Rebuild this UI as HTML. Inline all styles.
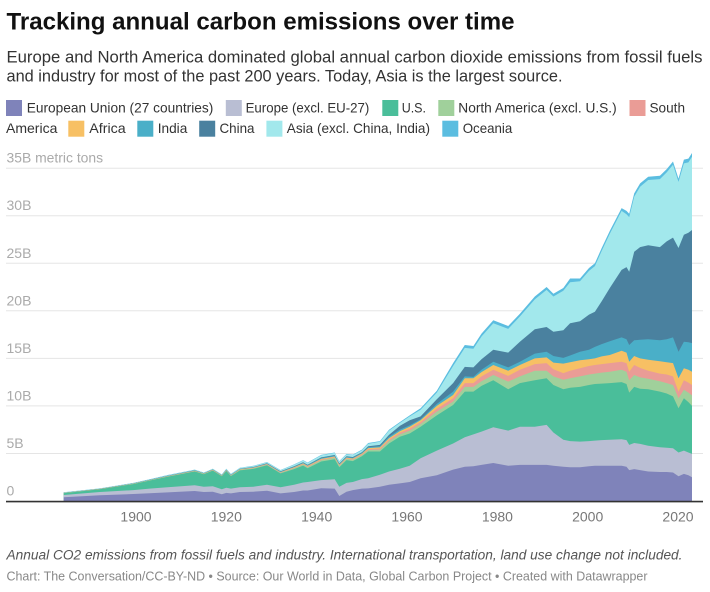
<!DOCTYPE html>
<html>
<head>
<meta charset="utf-8">
<style>
html,body{margin:0;padding:0;background:#fff;}
svg{display:block;}
text{font-family:"Liberation Sans",Arial,sans-serif;}
</style>
</head>
<body>
<svg width="710" height="592" viewBox="0 0 710 592" xmlns="http://www.w3.org/2000/svg">
<rect width="710" height="592" fill="#ffffff"/>

<!-- Title & subtitle -->
<text x="6.5" y="29.5" font-size="24" font-weight="bold" fill="#111" textLength="508" lengthAdjust="spacingAndGlyphs">Tracking annual carbon emissions over time</text>
<text x="6.5" y="62.5" font-size="17" fill="#333" textLength="696" lengthAdjust="spacingAndGlyphs">Europe and North America dominated global annual carbon dioxide emissions from fossil fuels</text>
<text x="6.5" y="81.5" font-size="17" fill="#333" textLength="556" lengthAdjust="spacingAndGlyphs">and industry for most of the past 200 years. Today, Asia is the largest source.</text>

<!-- Legend row 1 -->
<rect x="6" y="100" width="16" height="16" fill="#7f83ba"/>
<text x="26.7" y="112.7" font-size="14" fill="#333" textLength="186.6" lengthAdjust="spacingAndGlyphs">European Union (27 countries)</text>
<rect x="225.8" y="100" width="16" height="16" fill="#b9bed3"/>
<text x="245.6" y="112.7" font-size="14" fill="#333" textLength="123.7" lengthAdjust="spacingAndGlyphs">Europe (excl. EU-27)</text>
<rect x="382.3" y="100" width="16" height="16" fill="#4abe9a"/>
<text x="401.7" y="112.7" font-size="14" fill="#333" textLength="24.3" lengthAdjust="spacingAndGlyphs">U.S.</text>
<rect x="438.3" y="100" width="16" height="16" fill="#a0d09b"/>
<text x="458.3" y="112.7" font-size="14" fill="#333" textLength="158.4" lengthAdjust="spacingAndGlyphs">North America (excl. U.S.)</text>
<rect x="629.5" y="100" width="16" height="16" fill="#ea9c96"/>
<text x="649.5" y="112.7" font-size="14" fill="#333" textLength="35.5" lengthAdjust="spacingAndGlyphs">South</text>

<!-- Legend row 2 -->
<text x="6" y="133" font-size="14" fill="#333" textLength="51.4" lengthAdjust="spacingAndGlyphs">America</text>
<rect x="68.3" y="120.7" width="16" height="16" fill="#f7c064"/>
<text x="89.3" y="133" font-size="14" fill="#333" textLength="36.4" lengthAdjust="spacingAndGlyphs">Africa</text>
<rect x="137.3" y="120.7" width="16" height="16" fill="#4aafc8"/>
<text x="157.7" y="133" font-size="14" fill="#333" textLength="29.6" lengthAdjust="spacingAndGlyphs">India</text>
<rect x="199.2" y="120.7" width="16" height="16" fill="#4a819f"/>
<text x="219.5" y="133" font-size="14" fill="#333" textLength="35" lengthAdjust="spacingAndGlyphs">China</text>
<rect x="266.4" y="120.7" width="16" height="16" fill="#a2e8ec"/>
<text x="286.8" y="133" font-size="14" fill="#333" textLength="143.2" lengthAdjust="spacingAndGlyphs">Asia (excl. China, India)</text>
<rect x="442.3" y="120.7" width="16" height="16" fill="#5bbde0"/>
<text x="462.7" y="133" font-size="14" fill="#333" textLength="49.6" lengthAdjust="spacingAndGlyphs">Oceania</text>

<!-- Gridlines -->
<g stroke="#e5e5e5" stroke-width="1">
<line x1="6" y1="168.2" x2="703" y2="168.2"/>
<line x1="6" y1="215.7" x2="703" y2="215.7"/>
<line x1="6" y1="263.3" x2="703" y2="263.3"/>
<line x1="6" y1="310.8" x2="703" y2="310.8"/>
<line x1="6" y1="358.4" x2="703" y2="358.4"/>
<line x1="6" y1="405.9" x2="703" y2="405.9"/>
<line x1="6" y1="453.5" x2="703" y2="453.5"/>
</g>

<!-- Y labels -->
<g font-size="14" fill="#aaaaaa">
<text x="6.5" y="162.7" textLength="96.6" lengthAdjust="spacingAndGlyphs">35B metric tons</text>
<text x="6.5" y="210.2">30B</text>
<text x="6.5" y="257.8">25B</text>
<text x="6.5" y="305.3">20B</text>
<text x="6.5" y="352.9">15B</text>
<text x="6.5" y="400.4">10B</text>
<text x="6.5" y="448">5B</text>
<text x="6.5" y="495.4">0</text>
</g>

<!-- Stacked areas (cumulative, drawn top layer first) -->
<path fill="#5bbde0" d="M63.7,501 L63.7,492.3 99.9,488.4 133.3,482.9 149.6,479.3 167.6,475 194.7,469.6 203.8,472.5 212.8,468.7 221.8,474.4 226.3,468.7 230.9,473.9 239.9,467.7 253.4,465.8 267,462 280.5,470 294.1,464.4 303.1,460.1 307.6,462.5 321.2,454.9 334.7,452.5 339.3,461.1 346.5,453.9 352.8,454.6 361.9,449.6 368.2,443 379.9,441.1 389,429.7 399.8,422.1 409.7,415.4 420.6,408.3 436.8,390.7 453.1,363.1 464.8,345 473.4,346 481.5,333.6 493.3,320.3 508.2,326 519.9,313.7 534.8,296.5 546.6,287 553.4,293.7 563.3,288 570.1,278.5 580,278.5 589,268 594.9,263.3 601.7,248 609.8,230.9 621.6,208.1 626.5,210.9 629.2,213.8 634.2,193.4 640.1,183.4 648.2,176.7 659.9,175.8 666.7,169.1 673,161.5 678.5,178.6 683.9,159.6 688.4,158.6 692,153 L692,501 Z"/>
<path fill="#a2e8ec" d="M63.7,501 L63.7,492.4 99.9,488.4 133.3,483 149.6,479.4 167.6,475.2 194.7,469.8 203.8,472.6 212.8,468.8 221.8,474.5 226.3,468.9 230.9,474.1 239.9,467.9 253.4,466.1 267,462.3 280.5,470.3 294.1,464.8 303.1,460.5 307.6,462.9 321.2,455.4 334.7,453 339.3,461.6 346.5,454.4 352.8,455.1 361.9,450.3 368.2,443.7 379.9,441.8 389,430.6 399.8,423 409.7,416.4 420.6,409.7 436.8,392.6 453.1,366 464.8,347.9 473.4,348.8 481.5,336.5 493.3,323.2 508.2,328.9 519.9,316.5 534.8,299.4 546.6,289.9 553.4,296.5 563.3,290.8 570.1,282.3 580,281.3 589,270.9 594.9,266.1 601.7,250.9 609.8,233.8 621.6,210.9 626.5,214.3 629.2,217.1 634.2,196.7 640.1,186.7 648.2,180 659.9,179.1 666.7,172.4 673,164.8 678.5,181.9 683.9,163.4 688.4,162.4 692,156.7 L692,501 Z"/>
<path fill="#4a819f" d="M63.7,501 L63.7,492.7 99.9,488.7 133.3,483.4 149.6,479.8 167.6,475.7 194.7,470.3 203.8,473.1 212.8,469.4 221.8,475.1 226.3,469.6 230.9,474.7 239.9,468.7 253.4,467 267,463.3 280.5,471.3 294.1,466.2 303.1,462.2 307.6,464.7 321.2,457.4 334.7,455 339.3,463.4 346.5,456.3 352.8,457 361.9,452.3 368.2,446.2 379.9,444.9 389,434.9 399.8,425.9 409.7,420.2 420.6,416.4 436.8,399.2 453.1,383.1 464.8,366.9 473.4,367.4 481.5,359.3 493.3,349.8 508.2,352.6 519.9,341.7 534.8,329.3 546.6,327 553.4,331.7 563.3,330.3 570.1,323.2 580,321.3 589,314.6 594.9,311.8 601.7,301.3 609.8,288 621.6,269.9 626.5,267.1 629.2,271.8 634.2,251.8 640.1,247.1 648.2,245.2 659.9,247.1 666.7,241.4 673,237.6 678.5,248 683.9,234.7 688.4,232.8 692,230 L692,501 Z"/>
<path fill="#4aafc8" d="M63.7,501 L63.7,492.8 99.9,488.8 133.3,483.5 149.6,479.9 167.6,475.9 194.7,470.5 203.8,473.3 212.8,469.6 221.8,475.3 226.3,469.8 230.9,474.9 239.9,469 253.4,467.3 267,463.6 280.5,471.6 294.1,466.7 303.1,462.8 307.6,465.2 321.2,458.1 334.7,455.7 339.3,464 346.5,456.9 352.8,457.7 361.9,452.9 368.2,447.2 379.9,446.2 389,436.8 399.8,429.7 409.7,425.4 420.6,419.2 436.8,404 453.1,391.6 464.8,376.4 473.4,376.9 481.5,369.8 493.3,361.7 508.2,367.4 519.9,361.7 534.8,353.6 546.6,351.7 553.4,356 563.3,357.9 570.1,355.5 580,351.7 589,349.8 594.9,346.9 601.7,344.1 609.8,341.2 621.6,337.4 626.5,339.3 629.2,345 634.2,340.3 640.1,339.8 648.2,339.3 659.9,340.3 666.7,339.3 673,337.4 678.5,351.7 683.9,341.7 688.4,342.2 692,343.1 L692,501 Z"/>
<path fill="#f7c064" d="M63.7,501 L63.7,492.9 99.9,488.9 133.3,483.6 149.6,480.1 167.6,476.1 194.7,470.8 203.8,473.5 212.8,469.8 221.8,475.5 226.3,470.1 230.9,475.2 239.9,469.3 253.4,467.6 267,464 280.5,472.1 294.1,467.2 303.1,463.4 307.6,465.9 321.2,458.9 334.7,456.5 339.3,464.8 346.5,457.6 352.8,458.5 361.9,453.6 368.2,448.1 379.9,447.4 389,438.2 399.8,431.2 409.7,426.8 420.6,420.2 436.8,405.9 453.1,395 464.8,378.3 473.4,378.3 481.5,372.1 493.3,365 508.2,370.7 519.9,365 534.8,358.4 546.6,357.4 553.4,362.6 563.3,363.6 570.1,362.2 580,360.3 589,359.3 594.9,358.4 601.7,356.4 609.8,355 621.6,350.7 626.5,352.6 629.2,361.7 634.2,356 640.1,358.4 648.2,359.8 659.9,361.2 666.7,362.2 673,363.1 678.5,378.3 683.9,368.3 688.4,369.8 692,371.7 L692,501 Z"/>
<path fill="#ea9c96" d="M63.7,501 L63.7,493 99.9,489 133.3,483.7 149.6,480.2 167.6,476.2 194.7,471 203.8,473.7 212.8,470 221.8,475.7 226.3,470.3 230.9,475.4 239.9,469.6 253.4,467.9 267,464.3 280.5,472.4 294.1,467.7 303.1,464 307.6,466.5 321.2,459.5 334.7,457.2 339.3,465.4 346.5,458.3 352.8,459.1 361.9,454.4 368.2,449.1 379.9,448.5 389,439.7 399.8,432.8 409.7,428.7 420.6,422.1 436.8,408.8 453.1,398.3 464.8,383.1 473.4,383.1 481.5,376.4 493.3,369.8 508.2,375.9 519.9,369.8 534.8,364.1 546.6,363.1 553.4,369.3 563.3,373.1 570.1,370.7 580,368.3 589,366 594.9,365 601.7,364.1 609.8,363.1 621.6,361.7 626.5,363.1 629.2,371.7 634.2,365 640.1,367.9 648.2,370.7 659.9,373.6 666.7,374.5 673,376.4 678.5,391.6 683.9,380.2 688.4,382.6 692,385 L692,501 Z"/>
<path fill="#a0d09b" d="M63.7,501 L63.7,493 99.9,489.1 133.3,483.8 149.6,480.3 167.6,476.4 194.7,471.1 203.8,473.8 212.8,470.2 221.8,475.9 226.3,470.6 230.9,475.6 239.9,469.8 253.4,468.2 267,464.7 280.5,472.7 294.1,468.2 303.1,464.5 307.6,467.1 321.2,460.2 334.7,457.8 339.3,466 346.5,458.9 352.8,459.8 361.9,455.2 368.2,450 379.9,449.6 389,441.1 399.8,434.4 409.7,430.6 420.6,424 436.8,411.6 453.1,401.6 464.8,386.9 473.4,386.9 481.5,381.2 493.3,375 508.2,381.6 519.9,376.4 534.8,370.7 546.6,370.7 553.4,376.4 563.3,379.7 570.1,378.3 580,376.4 589,374.5 594.9,373.6 601.7,372.6 609.8,371.7 621.6,369.8 626.5,371.7 629.2,380.2 634.2,375 640.1,377.4 648.2,378.8 659.9,381.2 666.7,383.1 673,385 678.5,398.3 683.9,389.7 688.4,392.6 692,395.4 L692,501 Z"/>
<path fill="#4abe9a" d="M63.7,501 L63.7,493.2 99.9,489.3 133.3,484.1 149.6,480.6 167.6,476.8 194.7,471.5 203.8,474.2 212.8,470.6 221.8,476.3 226.3,471 230.9,476.1 239.9,470.4 253.4,468.9 267,465.3 280.5,473.4 294.1,469.1 303.1,465.6 307.6,468.2 321.2,461.5 334.7,459.2 339.3,467.2 346.5,460.1 352.8,461.1 361.9,456.3 368.2,451.5 379.9,451.5 389,443.5 399.8,436.8 409.7,433.5 420.6,426.8 436.8,415.4 453.1,405 464.8,391.6 473.4,391.6 481.5,385.9 493.3,380.2 508.2,389.3 519.9,383.1 534.8,380.2 546.6,378.3 553.4,385 563.3,389.3 570.1,387.8 580,386.9 589,385 594.9,384 601.7,383.6 609.8,383.1 621.6,382.1 626.5,384 629.2,392.6 634.2,386.9 640.1,388.8 648.2,389.3 659.9,391.6 666.7,393.5 673,396.4 678.5,408.3 683.9,398.3 688.4,402.1 692,405.9 L692,501 Z"/>
<path fill="#b9bed3" d="M63.7,501 L63.7,495 99.9,492 133.3,490.1 149.6,488.6 167.6,487.3 194.7,485.3 203.8,486.7 212.8,486.3 221.8,489.3 226.3,487.7 230.9,488.6 239.9,487.2 253.4,486.7 267,484.8 280.5,487.3 294.1,484.8 303.1,482.5 307.6,482 321.2,480.1 334.7,479.3 339.3,486.7 346.5,482.9 352.8,482 361.9,479.1 368.2,478.2 379.9,474.8 389,471.5 399.8,468.7 409.7,465.8 420.6,458.2 436.8,450.6 453.1,443.5 464.8,437.3 473.4,434.4 481.5,431.6 493.3,427.3 508.2,430.6 519.9,426.8 534.8,426.8 546.6,424.9 553.4,432.5 563.3,439.7 570.1,441.1 580,441.6 589,441.1 594.9,440.6 601.7,440.1 609.8,439.7 621.6,439.2 626.5,440.1 629.2,444.9 634.2,443 640.1,443.9 648.2,445.8 659.9,447.3 666.7,447.7 673,448.2 678.5,452.5 683.9,450.6 688.4,452.5 692,453.9 L692,501 Z"/>
<path fill="#7f83ba" d="M63.7,501 L63.7,497.3 99.9,495.3 133.3,494 149.6,493.2 167.6,492.4 194.7,491 203.8,492 212.8,491.7 221.8,494.3 226.3,492.9 230.9,493.4 239.9,492 253.4,491.7 267,490.7 280.5,493.4 294.1,492 303.1,490.5 307.6,490.5 321.2,488.2 334.7,488.6 339.3,496 346.5,491.7 352.8,490.1 361.9,488.6 368.2,488.4 379.9,486.7 389,484.8 399.8,483.4 409.7,482 420.6,478.2 436.8,475.3 453.1,469.6 464.8,466.8 473.4,466.3 481.5,464.9 493.3,463 508.2,465.8 519.9,464.9 534.8,464.9 546.6,464.9 553.4,465.8 563.3,466.8 570.1,467.2 580,467.2 589,466.3 594.9,465.8 601.7,465.8 609.8,465.8 621.6,465.8 626.5,466.8 629.2,470.1 634.2,469.1 640.1,470.1 648.2,471.5 659.9,472 666.7,472 673,472.5 678.5,476.3 683.9,473.9 688.4,475.3 692,477.2 L692,501 Z"/>

<!-- Baseline axis -->
<line x1="6" y1="501.6" x2="703" y2="501.6" stroke="#333" stroke-width="1.6"/>

<!-- X labels -->
<g font-size="14" fill="#777" text-anchor="middle">
<text x="136" y="521.7">1900</text>
<text x="226.3" y="521.7">1920</text>
<text x="316.7" y="521.7">1940</text>
<text x="407" y="521.7">1960</text>
<text x="497.4" y="521.7">1980</text>
<text x="587.7" y="521.7">2000</text>
<text x="678" y="521.7">2020</text>
</g>

<!-- Footer -->
<text x="6.5" y="559.5" font-size="13.5" font-style="italic" fill="#555" textLength="676" lengthAdjust="spacingAndGlyphs">Annual CO2 emissions from fossil fuels and industry. International transportation, land use change not included.</text>
<text x="6.5" y="580.5" font-size="12.5" fill="#888" textLength="641" lengthAdjust="spacingAndGlyphs">Chart: The Conversation/CC-BY-ND • Source: Our World in Data, Global Carbon Project • Created with Datawrapper</text>
</svg>
</body>
</html>
